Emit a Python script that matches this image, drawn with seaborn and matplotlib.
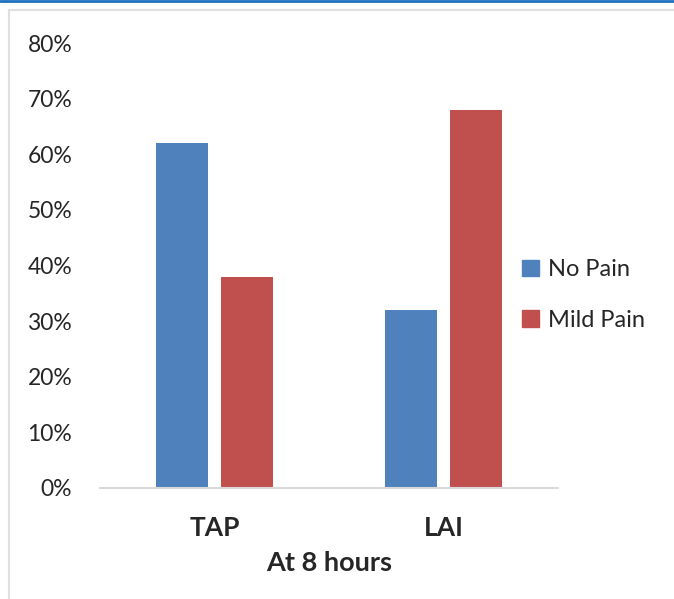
import pandas as pd
import seaborn as sns
import matplotlib.pyplot as plt
from matplotlib.patches import Rectangle
from matplotlib.lines import Line2D

# data
groups = ['TAP', 'LAI']
no_pain = [62, 32]
mild_pain = [38, 68]
series = ['No Pain', 'Mild Pain']
colors = ['#4F81BD', '#C0504D']

df = pd.DataFrame({
    'group': groups * 2,
    'pain': [series[0]] * len(groups) + [series[1]] * len(groups),
    'value': no_pain + mild_pain,
})

sns.set_theme(style='white')
plt.rcParams['font.family'] = ['Lato', 'DejaVu Sans']

fig = plt.figure(figsize=(6.74, 5.99), dpi=100)
ax = fig.add_axes([100 / 674, 1 - 488 / 599, 458 / 674, 445 / 599])

sns.barplot(data=df, x='group', y='value', hue='pain', order=groups,
            hue_order=series, palette=colors, width=0.572, gap=0.2,
            saturation=1, edgecolor='none', ax=ax, legend=False)

ax.set_ylim(0, 80)
ax.set_xlim(-0.5, 1.5)
ax.set_yticks(range(0, 81, 10))
ax.set_yticklabels([f'{v}%' for v in range(0, 81, 10)], fontsize=16.5)
ax.tick_params(axis='y', length=0, pad=20)
ax.tick_params(axis='x', length=0, pad=20)
for lbl in ax.get_xticklabels():
    lbl.set_fontsize(19)
    lbl.set_fontweight('bold')
ax.set_xlabel('At 8 hours', fontsize=19.5, fontweight='bold', labelpad=8)
ax.set_ylabel('')
for side in ['top', 'right', 'left']:
    ax.spines[side].set_visible(False)
ax.spines['bottom'].set_color('#D9D9D9')
ax.spines['bottom'].set_linewidth(1.5)

handles = [Rectangle((0, 0), 1, 1, color=c) for c in colors]
fig.legend(handles, series, loc='center left', bbox_to_anchor=(501 / 674, 1 - 295 / 599),
           frameon=False, fontsize=17, handlelength=0.7, handleheight=0.7,
           handletextpad=0.4, labelspacing=1.25)

# outer frame like the original screenshot
fig.add_artist(Line2D([0, 1], [1 - 1 / 599, 1 - 1 / 599], color='#1F6FC0', lw=2,
                      transform=fig.transFigure))
fig.add_artist(Line2D([9 / 674, 1], [1 - 10 / 599, 1 - 10 / 599], color='#E0E0E0', lw=1.5,
                      transform=fig.transFigure))
fig.add_artist(Line2D([9 / 674, 9 / 674], [0, 1 - 10 / 599], color='#E0E0E0', lw=1.5,
                      transform=fig.transFigure))

fig.savefig('out.png', dpi=100)
